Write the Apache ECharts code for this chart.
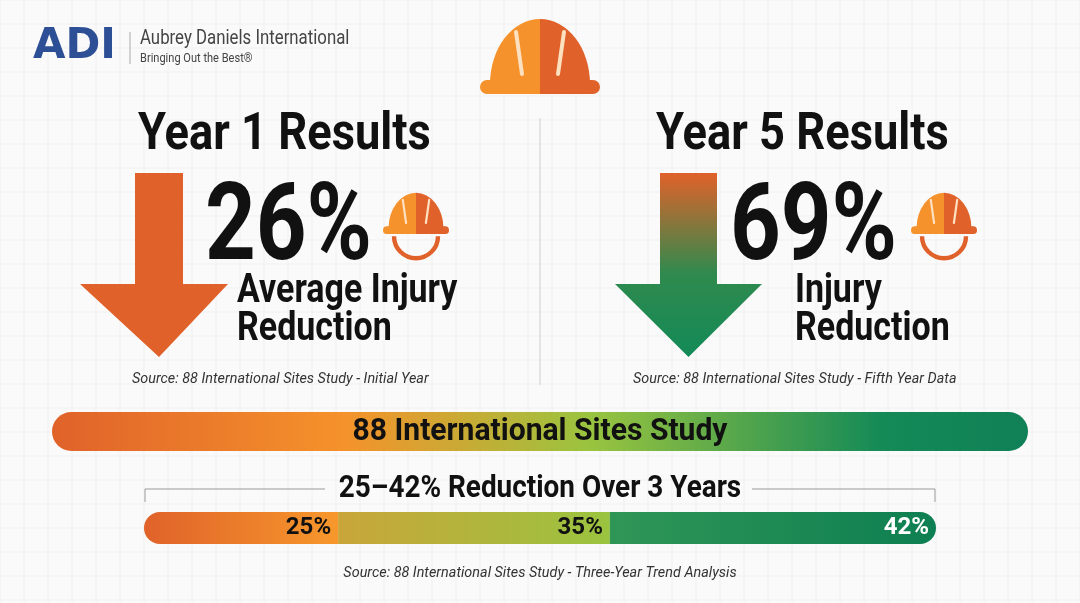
<!DOCTYPE html>
<html><head><meta charset="utf-8">
<script src="https://cdn.jsdelivr.net/npm/echarts@6/dist/echarts.min.js"></script>
<style>html,body{margin:0;padding:0;background:#fafafa}#c{width:1080px;height:603px}</style>
</head><body><div id="c"></div>
<script>
const headlineValues = ['26%', '69%'];
const headlineTitles = ['Year 1 Results', 'Year 5 Results'];
const headlineLabels = [['Average Injury', 'Reduction'], ['Injury', 'Reduction']];
const headlineSources = ['Source: 88 International Sites Study - Initial Year', 'Source: 88 International Sites Study - Fifth Year Data'];
const trendCategories = ['Year 1', 'Year 2', 'Year 3'];
const trendValues = [25, 35, 42];
const trendLabels = ['25%', '35%', '42%'];

const F = "Roboto,sans-serif";
const chart = echarts.init(document.getElementById('c'));
const g = [];
for (let x = 0; x <= 1080; x += 24) g.push({type:'line',shape:{x1:x,y1:0,x2:x,y2:603},style:{stroke:'#f0f0f0',lineWidth:1},z:0});
for (let y = 0; y <= 603; y += 24) g.push({type:'line',shape:{x1:0,y1:y,x2:1080,y2:y},style:{stroke:'#f0f0f0',lineWidth:1},z:0});
function T(x, y, text, font, fill, extra, sx) {
  return {type:'text',x:x,y:y,scaleX:sx||0.84,originX:0,originY:0,style:Object.assign({text:text,font:font,fill:fill,verticalAlign:'top'},extra||{})};
}
g.push(T(33,26,'ADI',"900 42px 'DejaVu Sans'",'#2d4f96',null,1));
g.push({type:'line',shape:{x1:130,y1:32,x2:130,y2:64},style:{stroke:'#aaa',lineWidth:1}});
g.push(T(140,29,'Aubrey Daniels International',"20px "+F,'#444',null,0.84));
g.push(T(140,52,'Bringing Out the Best®',"13px "+F,'#444',null,0.85));
function helmet(cx, top, s, face) {
  const r = 50*s, cy = top + 70*s;
  const L = [];
  L.push({type:'group',x:cx,y:cy,scaleY:1.3,children:[
    {type:'sector',shape:{cx:0,cy:0,r:r,startAngle:Math.PI,endAngle:1.5*Math.PI},style:{fill:'#f5922b'}},
    {type:'sector',shape:{cx:0,cy:0,r:r,startAngle:1.5*Math.PI,endAngle:2*Math.PI},style:{fill:'#e0622a'}}
  ]});
  L.push({type:'rect',shape:{x:cx-60*s,y:top+66*s,width:60*s,height:14*s,r:[7*s,0,0,7*s]},style:{fill:'#f5922b'}});
  L.push({type:'rect',shape:{x:cx,y:top+66*s,width:60*s,height:14*s,r:[0,7*s,7*s,0]},style:{fill:'#e0622a'}});
  L.push({type:'line',shape:{x1:cx-24*s,y1:top+18*s,x2:cx-18*s,y2:top+60*s},style:{stroke:'#fde0c0',lineWidth:4*s,lineCap:'round'}});
  L.push({type:'line',shape:{x1:cx+24*s,y1:top+18*s,x2:cx+18*s,y2:top+60*s},style:{stroke:'#fde0c0',lineWidth:4*s,lineCap:'round'}});
  if (face) L.push({type:'arc',shape:{cx:cx,cy:top+84*s,r:40*s,startAngle:0,endAngle:Math.PI},style:{stroke:'#e0622a',lineWidth:8*s,fill:'none'}});
  return L;
}
g.push(...helmet(540, 14, 1.0, false));
g.push(...helmet(416, 190, 0.55, true));
g.push(...helmet(944, 190, 0.55, true));
g.push({type:'line',shape:{x1:540,y1:118,x2:540,y2:385},style:{stroke:'#ddd',lineWidth:1.5}});
function arrow(x0, w, hx0, hw, fill) {
  const cx = x0 + w/2;
  return {type:'polygon',shape:{points:[[x0,173],[x0+w,173],[x0+w,284],[hx0+hw,284],[cx,357],[hx0,284],[x0,284]]},style:{fill:fill}};
}
g.push(arrow(135, 48, 80, 148, '#e0622a'));
g.push(arrow(660, 57, 615, 147, new echarts.graphic.LinearGradient(0,0,0,1,[{offset:0,color:'#e0622a'},{offset:0.55,color:'#2f8a4e'},{offset:1,color:'#138a57'}])));
const X = [[138, 205, 237, 132], [656, 730, 795, 633]];
for (let i = 0; i < 2; i++) {
  g.push(T(X[i][0],110,headlineTitles[i],"bold 52px "+F,'#111',null,0.87));
  g.push(T(X[i][1],178,headlineValues[i],"bold 108px "+F,'#111',null,0.82));
  g.push(T(X[i][2],273,headlineLabels[i].join('\n'),"bold 40px "+F,'#111',{lineHeight:38},0.85));
  g.push(T(X[i][3],372,headlineSources[i],"italic 15px "+F,'#333',null,0.96));
}
g.push({type:'rect',shape:{x:52,y:412,width:976,height:39,r:19.5},style:{fill:new echarts.graphic.LinearGradient(0,0,1,0,[{offset:0,color:'#e0622a'},{offset:0.3,color:'#f5922b'},{offset:0.55,color:'#9ac43f'},{offset:0.85,color:'#148a57'},{offset:1,color:'#108056'}])}});
function C(x, y, text, font, fill, sx) {
  return {type:'text',x:x,y:y,scaleX:sx,style:{text:text,font:font,fill:fill,align:'center',verticalAlign:'middle'}};
}
g.push(C(540,432,'88 International Sites Study',"bold 32px "+F,'#111',0.94));
g.push({type:'polyline',shape:{points:[[145,502],[145,489],[325,489]]},style:{stroke:'#999',lineWidth:1,fill:'none'}});
g.push({type:'polyline',shape:{points:[[752,489],[935,489],[935,502]]},style:{stroke:'#999',lineWidth:1,fill:'none'}});
g.push(C(540,489,'25–42% Reduction Over 3 Years',"bold 31px "+F,'#111',0.9));
g.push(C(540,573,'Source: 88 International Sites Study - Three-Year Trend Analysis',"italic 15px "+F,'#333',0.96));

const segColors = [
  new echarts.graphic.LinearGradient(0,0,1,0,[{offset:0,color:'#e0622a'},{offset:1,color:'#f7982c'}]),
  new echarts.graphic.LinearGradient(0,0,1,0,[{offset:0,color:'#c9a53a'},{offset:1,color:'#9ac43f'}]),
  new echarts.graphic.LinearGradient(0,0,1,0,[{offset:0,color:'#2f9656'},{offset:1,color:'#0e7f52'}])
];
const radii = [[16,0,0,16],[0,0,0,0],[0,16,16,0]];
const series = trendCategories.map((c, i) => ({
  type:'bar', name:c, stack:'t', barWidth:32,
  data:[{value:trendValues[i], itemStyle:{color:segColors[i], borderRadius:radii[i]}}],
  label:{show:true, position:'insideRight', formatter:trendLabels[i], fontFamily:F, fontWeight:'bold', fontSize:24, color:i===2?'#fff':'#111', offset:[-2,0]}
}));
chart.setOption({
  animation:false,
  grid:{left:144,right:144,top:512,height:32},
  xAxis:{type:'value',min:0,max:trendValues.reduce((a,b)=>a+b,0),show:false},
  yAxis:{type:'category',data:['trend'],show:false},
  series:series,
  graphic:g
});
</script></body></html>
